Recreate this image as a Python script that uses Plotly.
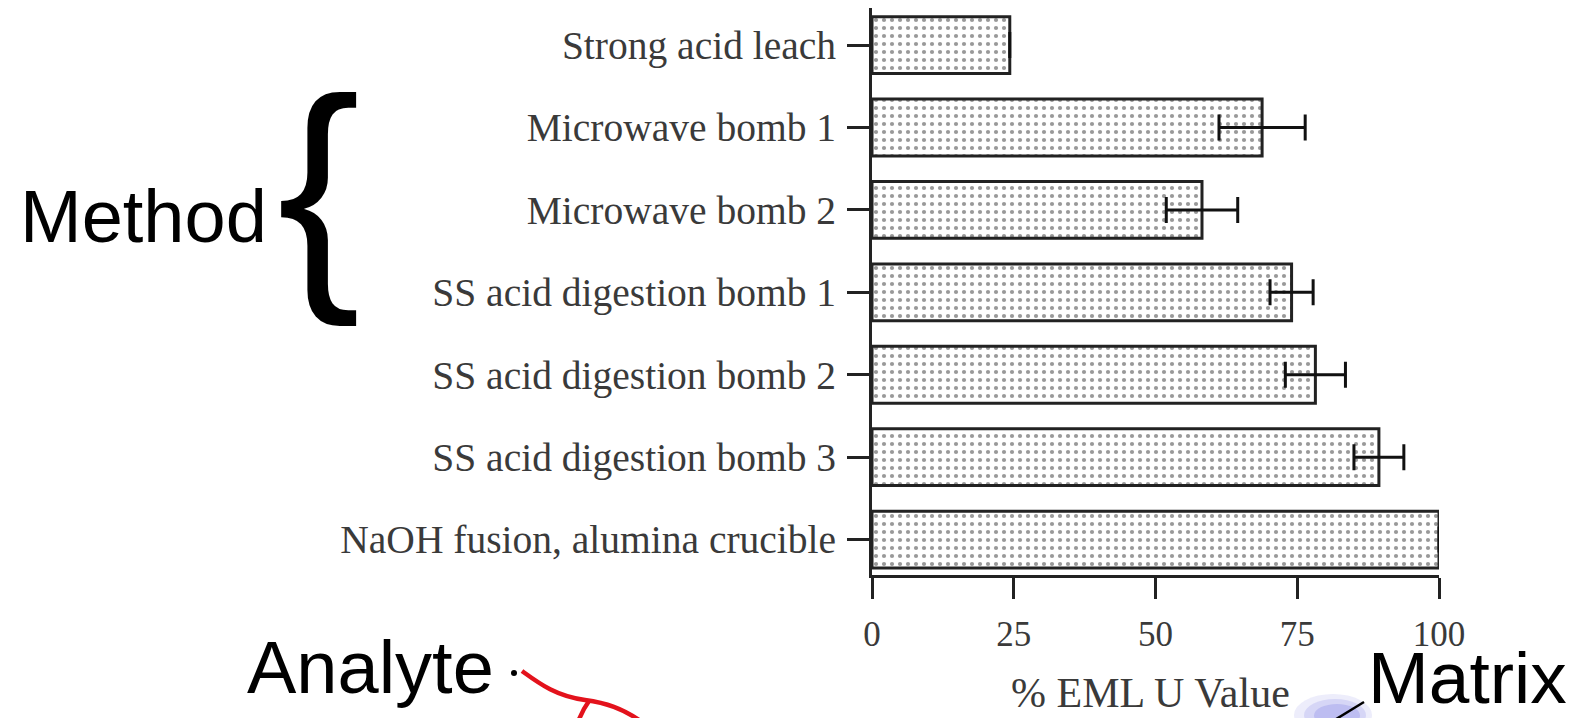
import plotly.graph_objects as go

# ---- data ----
methods = [
    "Strong acid leach",
    "Microwave bomb 1",
    "Microwave bomb 2",
    "SS acid digestion bomb 1",
    "SS acid digestion bomb 2",
    "SS acid digestion bomb 3",
    "NaOH fusion, alumina crucible",
]
eml_u_pct = [24.3, 68.8, 58.2, 74.0, 78.2, 89.4, 100.0]
eml_u_err = [0, 7.6, 6.3, 3.8, 5.3, 4.4, 0]
x_ticks = [0, 25, 50, 75, 100]
x_title = "% EML U Value"

W, H = 1575, 718
L, R, T, B = 872, 136, 8, 143
PW, PH = W - L - R, H - T - B


def px(x):
    return (x - L) / PW


def py(y):
    return (H - B - y) / PH


fig = go.Figure()
fig.add_trace(go.Bar(
    y=methods,
    x=eml_u_pct,
    orientation="h",
    marker=dict(
        color="white",
        line=dict(color="#222222", width=3),
        pattern=dict(shape=".", fgcolor="#333333", bgcolor="white", size=8, solidity=0.22),
    ),
    error_x=dict(type="data", array=eml_u_err, visible=True, color="#111111", thickness=3, width=13),
    showlegend=False,
))

serif = "Liberation Serif"
sans = "Liberation Sans"

fig.update_layout(
    width=W, height=H,
    margin=dict(l=L, r=R, t=T, b=B, pad=0),
    paper_bgcolor="white", plot_bgcolor="white",
    bargap=0.31,
    xaxis=dict(
        range=[0, 100], tickvals=x_ticks, ticktext=[str(v) for v in x_ticks],
        showline=True, linecolor="#222222", linewidth=3,
        ticks="outside", ticklen=21, tickwidth=3, tickcolor="#222222",
        showgrid=False, zeroline=False,
        tickfont=dict(family=serif, size=35, color="#3a3a3a"),
        ticklabelstandoff=5,
    ),
    yaxis=dict(
        type="category", categoryorder="array", categoryarray=methods,
        range=[6.43, -0.45],
        showline=True, linecolor="#222222", linewidth=3,
        ticks="outside", ticklen=22, tickwidth=3, tickcolor="#222222",
        showgrid=False, zeroline=False,
        tickfont=dict(family=serif, size=39.5, color="#3a3a3a"),
        ticklabelstandoff=3,
    ),
)

annotations = [
    dict(text=x_title, x=px(1150), y=py(693), font=dict(family=serif, size=42, color="#3a3a3a"),
         xanchor="center", yanchor="middle"),
    dict(text="Method", x=px(18), y=py(216), font=dict(family=sans, size=74, color="black"),
         xanchor="left", yanchor="middle"),
    dict(text="{", x=px(319), y=py(187), font=dict(family=sans, size=250, color="black"),
         xanchor="center", yanchor="middle"),
    dict(text="Analyte", x=px(245), y=py(667), font=dict(family=sans, size=74, color="black"),
         xanchor="left", yanchor="middle"),
    dict(text="Matrix", x=px(1366), y=py(677), font=dict(family=sans, size=73, color="black"),
         xanchor="left", yanchor="middle"),
]
for a in annotations:
    a.update(xref="paper", yref="paper", showarrow=False)
fig.update_layout(annotations=annotations)


def path(cmds):
    out = []
    for c in cmds:
        if isinstance(c, str):
            out.append(c)
        else:
            out.append(f"{px(c[0]):.5f},{py(c[1]):.5f}")
    return " ".join(out)


shapes = []
# lavender glow behind matrix pointer
for (x0, y0, x1, y1, op) in [(1294, 694, 1372, 736, 0.12), (1304, 699, 1366, 731, 0.18), (1314, 704, 1360, 727, 0.24)]:
    shapes.append(dict(type="circle", xref="paper", yref="paper", x0=px(x0), y0=py(y0), x1=px(x1), y1=py(y1),
                       fillcolor=f"rgba(110,110,225,{op})", line=dict(width=0)))
shapes.append(dict(type="line", xref="paper", yref="paper", x0=px(1364), y0=py(702), x1=px(1333), y1=py(721),
                   line=dict(color="black", width=2.5)))
# red hand-drawn curve from Analyte
shapes.append(dict(type="path", xref="paper", yref="paper",
                   path=path(["M", (522, 671), "C", (540, 684), (556, 696), (585, 700),
                              "C", (606, 703), (622, 708), (642, 722)]),
                   line=dict(color="#e3121c", width=4.5)))
shapes.append(dict(type="path", xref="paper", yref="paper",
                   path=path(["M", (589, 701), "C", (584, 708), (581, 714), (578, 722)]),
                   line=dict(color="#e3121c", width=4.5)))
# small dot
shapes.append(dict(type="circle", xref="paper", yref="paper", x0=px(511), y0=py(670), x1=px(517), y1=py(676),
                   fillcolor="black", line=dict(width=0)))
fig.update_layout(shapes=shapes)

fig.write_html("out.html", config={"displayModeBar": False},
               post_script="document.body.style.margin='0px'; document.body.style.overflow='hidden';")
